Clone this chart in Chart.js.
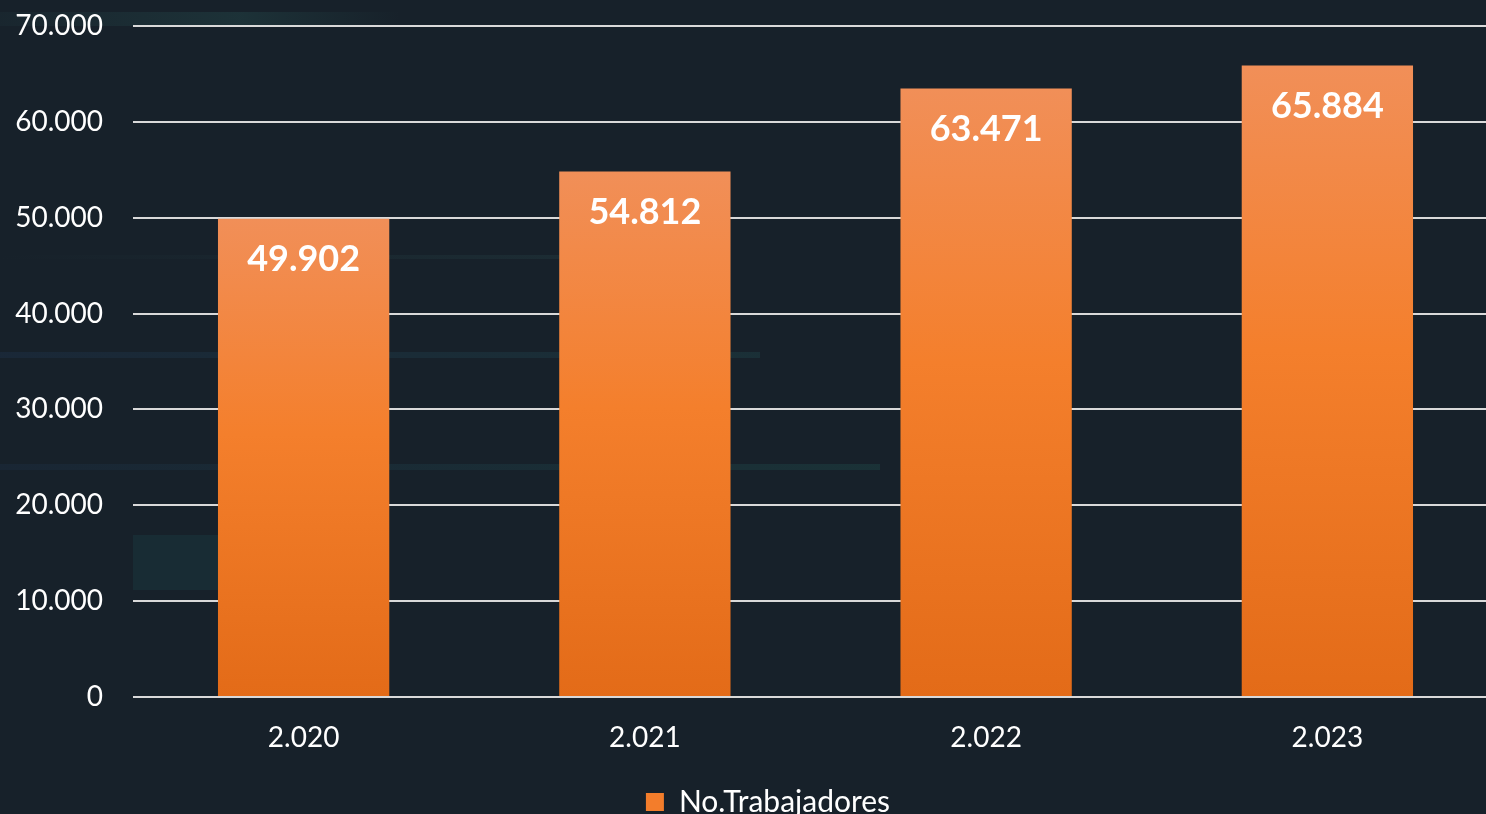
<!DOCTYPE html>
<html>
<head>
<meta charset="utf-8">
<script src="https://cdn.jsdelivr.net/npm/chart.js@4/dist/chart.umd.min.js"></script>
<style>
  html, body { margin: 0; padding: 0; background: #17212a; overflow: hidden; }
  #wrap { position: relative; width: 1498px; height: 827px; }
  #wrap canvas { position: relative; z-index: 1; }
  .deco { position: absolute; z-index: 0; }
</style>
</head>
<body>
<div id="wrap">
  <div class="deco" style="left:0;top:12px;width:400px;height:14px;background:linear-gradient(90deg,rgba(40,75,80,0.12),rgba(35,70,72,0.45) 60%,rgba(35,70,72,0))"></div>
  <div class="deco" style="left:0;top:255px;width:560px;height:4px;background:linear-gradient(90deg,rgba(35,60,65,0),rgba(35,60,65,0.4))"></div>
  <div class="deco" style="left:0;top:352px;width:760px;height:6px;background:linear-gradient(90deg,rgba(30,50,75,0.4),rgba(30,65,70,0.45))"></div>
  <div class="deco" style="left:0;top:464px;width:880px;height:6px;background:linear-gradient(90deg,rgba(30,50,75,0.3),rgba(30,70,70,0.45))"></div>
  <div class="deco" style="left:133px;top:535px;width:85px;height:55px;background:rgba(25,70,75,0.3)"></div>
  <canvas id="chart"></canvas>
</div>
<script>
const years = ['2.020', '2.021', '2.022', '2.023']
const trabajadores = [49902, 54812, 63471, 65884]
const seriesName = 'No.Trabajadores'

const fmt = v => new Intl.NumberFormat('de-DE').format(v)

function barGradient(ctx) {
    const chart = ctx.chart
    if (!chart.chartArea || ctx.raw === undefined) return '#f37d2b'
    const y = chart.scales.y
    const top = y.getPixelForValue(ctx.raw)
    const bottom = y.getPixelForValue(0)
    const g = chart.ctx.createLinearGradient(0, top, 0, bottom)
    g.addColorStop(0, '#f18f58')
    g.addColorStop(0.45, '#f47f2c')
    g.addColorStop(1, '#e36b18')
    return g
}

// white value labels inside the top of each bar
const valueLabels = {
    id: 'valueLabels',
    afterDatasetsDraw(chart) {
        const c = chart.ctx
        const meta = chart.getDatasetMeta(0)
        c.save()
        c.fillStyle = '#ffffff'
        c.font = 'bold 36px Lato'
        c.textAlign = 'center'
        c.textBaseline = 'middle'
        meta.data.forEach((bar, i) => {
            c.fillText(fmt(trabajadores[i]), bar.x, bar.y + 41)
        })
        c.restore()
    }
}

// legend sits a bit right of the canvas centre in the original
const legendShift = {
    id: 'legendShift',
    afterLayout(chart) {
        chart.legend.left += 19
        chart.legend.right += 19
    }
}

new Chart(document.getElementById('chart'), {
    type: 'bar',
    data: {
        labels: years,
        datasets: [{
            label: seriesName,
            data: trabajadores,
            backgroundColor: barGradient,
            borderWidth: 0,
            barPercentage: 0.502,
            categoryPercentage: 1
        }]
    },
    options: {
        responsive: true,
        maintainAspectRatio: false,
        animation: false,
        layout: { padding: { top: 26, right: 0, left: 0, bottom: 0 } },
        plugins: {
            tooltip: { enabled: false },
            legend: {
                position: 'bottom',
                labels: {
                    color: '#ffffff',
                    font: { family: 'Lato', size: 30 },
                    boxWidth: 18,
                    boxHeight: 18,
                    padding: 10,
                    generateLabels: chart => [{
                        text: seriesName,
                        fillStyle: '#f37d2b',
                        strokeStyle: '#f37d2b',
                        lineWidth: 0,
                        fontColor: '#ffffff',
                        datasetIndex: 0
                    }]
                }
            }
        },
        scales: {
            x: {
                afterFit: scale => { scale.height = 80 },
                grid: { display: false },
                border: { display: false },
                ticks: {
                    color: '#ffffff',
                    font: { family: 'Lato', size: 28 },
                    padding: 16
                }
            },
            y: {
                min: 0,
                max: 70000,
                afterFit: scale => {
                    scale.width = 133
                    scale.paddingTop = 0
                    scale.paddingBottom = 0
                },
                grid: { color: '#d9d9d9', lineWidth: 2, drawTicks: false },
                border: { display: false },
                ticks: {
                    stepSize: 10000,
                    color: '#ffffff',
                    font: { family: 'Lato', size: 28 },
                    padding: 30,
                    callback: v => fmt(v)
                }
            }
        }
    },
    plugins: [valueLabels, legendShift]
})
</script>
</body>
</html>
